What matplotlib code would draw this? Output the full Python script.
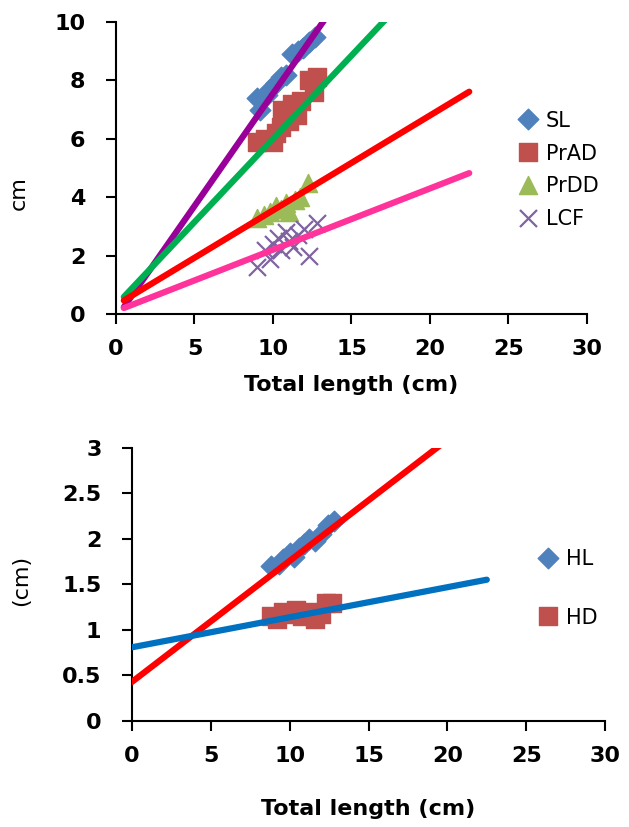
import numpy as np
import matplotlib
matplotlib.use("Agg")
import matplotlib.pyplot as plt
from matplotlib.ticker import FormatStrFormatter

# top panel: body measurements vs total length
sl_x = [9.0, 9.2, 9.6, 9.8, 10.2, 10.5, 10.8, 11.2, 11.6, 11.9, 12.3, 12.7]
sl_y = [7.4, 7.0, 7.5, 7.7, 7.9, 8.1, 8.2, 8.9, 9.0, 9.1, 9.3, 9.5]
prad_x = [9.0, 9.5, 10.0, 10.2, 10.5, 10.6, 11.0, 11.2, 11.5, 11.8, 12.3, 12.6, 12.8]
prad_y = [5.9, 6.0, 5.9, 6.2, 6.4, 7.0, 6.6, 7.2, 6.8, 7.3, 8.0, 7.6, 8.1]
prdd_x = [9.0, 9.4, 9.8, 10.2, 10.5, 10.8, 11.0, 11.4, 11.7, 12.2]
prdd_y = [3.3, 3.4, 3.5, 3.7, 3.6, 3.8, 3.5, 3.9, 4.0, 4.5]
lcf_x = [9.0, 9.5, 9.8, 10.0, 10.3, 10.5, 10.8, 11.0, 11.3, 11.6, 12.0, 12.3, 12.8]
lcf_y = [1.6, 2.2, 1.9, 2.4, 2.6, 2.2, 2.8, 2.5, 2.3, 2.7, 2.9, 2.0, 3.1]

# trend lines (intercept, slope)
top_fits = {"sl": (-0.15, 0.77), "prad": (0.30, 0.57),
            "prdd": (0.30, 0.325), "lcf": (0.10, 0.21)}

# bottom panel: head length / head depth
hl_x = [8.8, 9.3, 9.6, 10.0, 10.3, 10.6, 10.9, 11.2, 11.6, 12.0, 12.4, 12.8]
hl_y = [1.70, 1.72, 1.78, 1.85, 1.80, 1.90, 1.95, 2.00, 1.98, 2.05, 2.15, 2.20]
hd_x = [8.8, 9.2, 9.6, 10.0, 10.4, 10.8, 11.2, 11.6, 12.0, 12.3, 12.7]
hd_y = [1.15, 1.12, 1.20, 1.18, 1.22, 1.15, 1.20, 1.12, 1.18, 1.30, 1.30]
bot_fits = {"hl": (0.43, 0.133), "hd": (0.81, 0.033)}

xticks = [0, 5, 10, 15, 20, 25, 30]

fig = plt.figure(figsize=(6.29, 8.27), dpi=100)
ax1 = fig.add_axes([0.1844, 0.6203, 0.7488, 0.3531])
ax2 = fig.add_axes([0.2099, 0.1282, 0.7520, 0.3301])

tx = np.array([0.5, 22.5])
lw = 4.5

ax1.scatter(sl_x, sl_y, marker="D", s=110, color="#4F81BD", label="SL", zorder=2)
ax1.scatter(prad_x, prad_y, marker="s", s=150, color="#C0504D", label="PrAD", zorder=2)
ax1.scatter(prdd_x, prdd_y, marker="^", s=170, color="#9BBB59", label="PrDD", zorder=2)
ax1.scatter(lcf_x, lcf_y, marker="x", s=150, color="#8064A2", linewidths=1.6,
            label="LCF", zorder=2)

for key, col in [("sl", "#990099"), ("prad", "#00B050"),
                 ("prdd", "#FF0000"), ("lcf", "#FF3399")]:
    a, b = top_fits[key]
    ax1.plot(tx, a + b * tx, color=col, lw=lw, solid_capstyle="round", zorder=3)

ax1.set_xlim(0, 30)
ax1.set_ylim(0, 10)
ax1.set_xticks(xticks)
ax1.set_yticks([0, 2, 4, 6, 8, 10])
ax1.set_xlabel("Total length (cm)", fontsize=16, fontweight="bold")
ax1.set_ylabel("cm", fontsize=16)
ax1.xaxis.set_label_coords(0.5, -0.21)
ax1.yaxis.set_label_coords(-0.186, 0.414)
ax1.legend(loc="upper left", bbox_to_anchor=(0.835, 0.725), frameon=False,
           fontsize=15, handletextpad=0.35, labelspacing=0.62, borderaxespad=0,
           handlelength=1.0, scatteryoffsets=[0.5])

ax2.scatter(hl_x, hl_y, marker="D", s=110, color="#4F81BD", label="HL", zorder=2)
ax2.scatter(hd_x, hd_y, marker="s", s=150, color="#C0504D", label="HD", zorder=2)
bx = np.array([0.0, 22.5])
for key, col in [("hl", "#FF0000"), ("hd", "#0070C0")]:
    a, b = bot_fits[key]
    ax2.plot(bx, a + b * bx, color=col, lw=lw, solid_capstyle="round", zorder=3)

ax2.set_xlim(0, 30)
ax2.set_ylim(0, 3)
ax2.set_xticks(xticks)
ax2.set_yticks([0, 0.5, 1, 1.5, 2, 2.5, 3])
ax2.yaxis.set_major_formatter(FormatStrFormatter("%g"))
ax2.set_xlabel("Total length (cm)", fontsize=16, fontweight="bold")
ax2.set_ylabel("(cm)", fontsize=16)
ax2.xaxis.set_label_coords(0.5, -0.285)
ax2.yaxis.set_label_coords(-0.213, 0.516)
ax2.legend(loc="upper left", bbox_to_anchor=(0.84, 0.66), frameon=False,
           fontsize=15, handletextpad=0.35, labelspacing=1.85, borderaxespad=0,
           handlelength=1.0, scatteryoffsets=[0.5])

for ax in (ax1, ax2):
    ax.spines["top"].set_visible(False)
    ax.spines["right"].set_visible(False)
    ax.spines["left"].set_linewidth(1.5)
    ax.spines["bottom"].set_linewidth(1.5)
    ax.tick_params(direction="out", length=7, width=1.5, labelsize=16)
    ax.tick_params(axis="x", pad=11)
    ax.tick_params(axis="y", pad=15)
    for lab in ax.get_xticklabels() + ax.get_yticklabels():
        lab.set_fontweight("bold")

fig.savefig("out.png", dpi=100)
